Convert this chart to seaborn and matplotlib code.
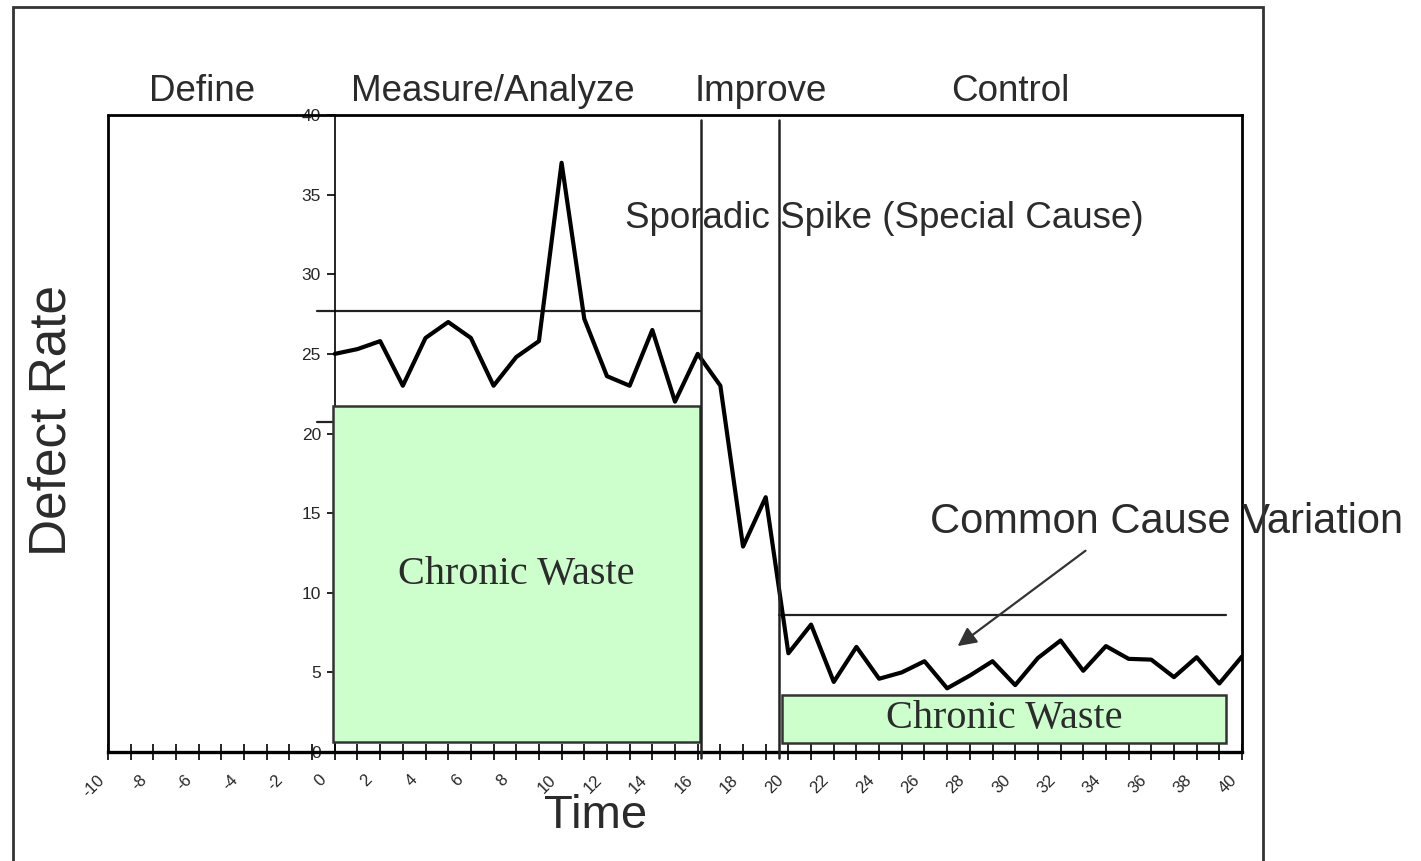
import matplotlib
matplotlib.use("Agg")
import matplotlib.pyplot as plt
import matplotlib.patches as mpatches
from matplotlib.transforms import ScaledTranslation
import seaborn as sns
import pandas as pd

# ---- data ----
time = list(range(0, 41))
defect_rate = [25.0, 25.3, 25.8, 23.0, 26.0, 27.0, 26.0, 23.0, 24.8, 25.8,
               37.0, 27.2, 23.6, 23.0, 26.5, 22.0, 25.0, 23.0, 12.9, 16.0,
               6.2, 8.0, 4.4, 6.6, 4.6, 5.0, 5.7, 4.0, 4.8, 5.7,
               4.2, 5.9, 7.0, 5.1, 6.65, 5.85, 5.8, 4.7, 5.95, 4.3, 6.0]
x_ticks = list(range(-10, 41, 2))
y_ticks = list(range(0, 41, 5))
phases = ["Define", "Measure/Analyze", "Improve", "Control"]
phase_centers = [-5.86, 6.98, 18.8, 29.8]
phase_bounds = [16.15, 19.6]
# control lines: (y, x_start, x_end)
control_lines = [(27.7, -0.8, 16.15), (20.7, -0.8, 0.0), (8.6, 19.6, 39.3)]
# chronic waste boxes: (x0, x1, y0, y1)
waste_boxes = [(-0.1, 16.1, 0.6, 21.7), (19.7, 39.3, 0.55, 3.6)]
waste_label = "Chronic Waste"

df = pd.DataFrame({"Time": time, "Defect Rate": defect_rate})

sns.set_style("white")
plt.rcParams["font.family"] = ["Liberation Sans", "DejaVu Sans"]

W, H = 1421, 861
fig = plt.figure(figsize=(W / 100, H / 100), dpi=100)
ax = fig.add_axes([108 / W, 1 - 752 / H, (1242 - 108) / W, (752 - 115) / H])

TXT = "#2b2b2b"

sns.lineplot(data=df, x="Time", y="Defect Rate", ax=ax, color="black",
             linewidth=3.0, zorder=4)

ax.set_xlim(-10, 40)
ax.set_ylim(0, 40)
ax.set_xlabel("")
ax.set_ylabel("")

# chronic waste boxes
for (x0, x1, y0, y1) in waste_boxes:
    ax.add_patch(mpatches.Rectangle((x0, y0), x1 - x0, y1 - y0,
                                    facecolor="#CCFFCC", edgecolor="#333333",
                                    linewidth=1.8, zorder=3))
    ax.text((x0 + x1) / 2, (y0 + y1) / 2, waste_label, ha="center", va="center",
            fontsize=29, family=["Liberation Serif", "DejaVu Serif"], color=TXT,
            zorder=5)

# control lines
for (y, xs, xe) in control_lines:
    ax.plot([xs, xe], [y, y], color="#222222", linewidth=1.6, zorder=2,
            clip_on=False)

# phase boundaries
for xb in phase_bounds:
    ax.plot([xb, xb], [-0.4, 39.7], color="#222222", linewidth=1.8, zorder=5,
            clip_on=False)

# phase labels
for name, xc in zip(phases, phase_centers):
    ax.text(xc, 41.45, name, ha="center", va="center", fontsize=26.5,
            color=TXT, clip_on=False)

ax.text(12.8, 33.5, "Sporadic Spike (Special Cause)", ha="left", va="center",
        fontsize=26.5, color=TXT, zorder=6)
ax.text(26.24, 14.45, "Common Cause Variation", ha="left", va="center",
        fontsize=30, color=TXT, zorder=6, clip_on=False)
ax.annotate("", xy=(27.46, 6.65), xytext=(33.1, 12.64),
            arrowprops=dict(arrowstyle="-|>", color="#333333", lw=1.6,
                            mutation_scale=28, shrinkA=0, shrinkB=0),
            zorder=6)

# spines
ax.spines["left"].set_position(("data", 0))
ax.spines["left"].set_linewidth(1.2)
ax.spines["left"].set_color("black")
for s in ["top", "right", "bottom"]:
    ax.spines[s].set_visible(True)
    ax.spines[s].set_color("black")
    ax.spines[s].set_linewidth(2.0)
ax.spines["bottom"].set_linewidth(2.4)
ax.plot([-10, -10], [0, 40], color="black", linewidth=2.0, clip_on=False,
        zorder=6)

# ticks
ax.set_xticks(x_ticks)
ax.set_xticks([t + 1 for t in x_ticks[:-1]], minor=True)
ax.set_xticklabels([str(t) for t in x_ticks], rotation=45, ha="center",
                   va="top", fontsize=12)
ax.tick_params(axis="x", which="both", direction="inout", length=11,
               width=1.2, color="black", pad=9, bottom=True)
offset = ScaledTranslation(-14 / 100, 0, fig.dpi_scale_trans)
for lab in ax.get_xticklabels():
    lab.set_transform(lab.get_transform() + offset)

ax.set_yticks(y_ticks)
ax.set_yticklabels([str(t) for t in y_ticks], fontsize=12.5)
ax.tick_params(axis="y", direction="out", length=6, width=1.2, color="black",
               pad=4, left=True)

# axis titles
fig.text(596 / W, 1 - 816 / H, "Time", ha="center", va="center",
         fontsize=34, color=TXT)
fig.text(52 / W, 1 - 420 / H, "Defect Rate", ha="center", va="center",
         fontsize=37, color=TXT, rotation=90)

# outer frame
fig.add_artist(mpatches.Rectangle((13 / W, -0.05), (1263 - 13) / W,
                                  1 - 7 / H + 0.05, transform=fig.transFigure,
                                  fill=False, edgecolor="#333333",
                                  linewidth=2.0))

fig.savefig("out.png", dpi=100)
